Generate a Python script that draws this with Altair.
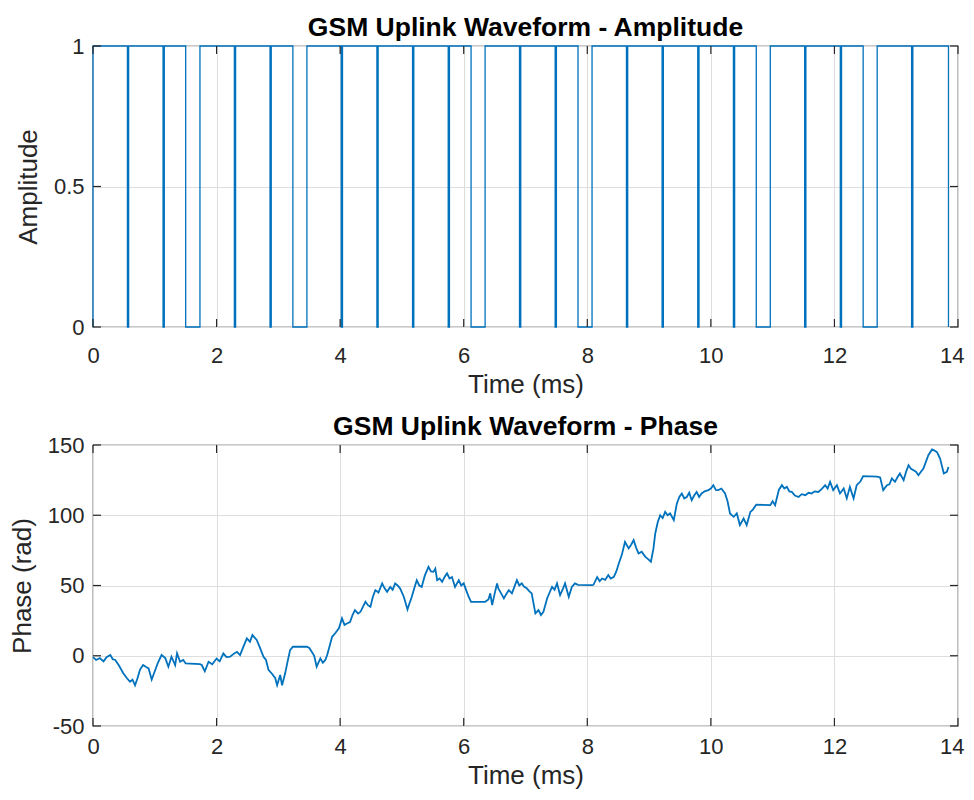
import altair as alt
import pandas as pd

# ---------------- data ----------------
# GSM uplink bursts (ms): start / end of each "on" interval (amplitude 1)
burst_start = [0.000, 0.577, 1.154, 1.731, 2.308, 2.885, 3.462, 4.038,
               4.615, 5.192, 5.769, 6.346, 6.923, 7.500, 8.077, 8.654,
               9.231, 9.808, 10.385, 10.962, 11.538, 12.115, 12.692, 13.269]
burst_end = [0.557, 1.134, 1.500, 2.288, 2.865, 3.235, 4.018, 4.595,
             5.172, 5.749, 6.119, 6.903, 7.480, 7.850, 8.634, 9.211,
             9.788, 10.365, 10.735, 11.518, 12.095, 12.465, 13.249, 13.846]

phase_time = [
    0.00, 0.05, 0.11, 0.17, 0.22, 0.28, 0.32, 0.36, 0.42, 0.49, 0.55, 0.60,
    0.64, 0.68, 0.72, 0.76, 0.81, 0.86, 0.90, 0.95, 1.00, 1.05, 1.11, 1.17,
    1.22, 1.27, 1.33, 1.36, 1.41, 1.46, 1.50, 1.731, 1.76, 1.81, 1.87, 1.93,
    2.00, 2.05, 2.11, 2.16, 2.22, 2.28, 2.33, 2.38, 2.43, 2.49, 2.54, 2.58,
    2.65, 2.70, 2.76, 2.80, 2.84, 2.90, 2.95, 2.98, 3.03, 3.06, 3.11, 3.15,
    3.19, 3.235, 3.462, 3.50, 3.54, 3.58, 3.62, 3.68, 3.72, 3.76, 3.79, 3.83,
    3.87, 3.92, 3.98, 4.03, 4.07, 4.11, 4.16, 4.20, 4.24, 4.29, 4.33, 4.37,
    4.41, 4.45, 4.49, 4.53, 4.57, 4.62, 4.68, 4.72, 4.76, 4.81, 4.85, 4.89,
    4.93, 4.97, 5.03, 5.09, 5.12, 5.16, 5.20, 5.24, 5.28, 5.32, 5.37, 5.43,
    5.47, 5.51, 5.54, 5.57, 5.61, 5.65, 5.69, 5.73, 5.77, 5.81, 5.86, 5.92,
    5.96, 6.00, 6.05, 6.08, 6.119, 6.346, 6.40, 6.43, 6.46, 6.50, 6.54, 6.56,
    6.61, 6.65, 6.69, 6.73, 6.78, 6.82, 6.86, 6.90, 6.94, 6.98, 7.02, 7.06,
    7.10, 7.16, 7.21, 7.25, 7.29, 7.35, 7.39, 7.43, 7.47, 7.51, 7.56, 7.60,
    7.64, 7.70, 7.75, 7.80, 7.85, 8.077, 8.10, 8.16, 8.20, 8.24, 8.29, 8.34,
    8.38, 8.43, 8.47, 8.51, 8.56, 8.61, 8.67, 8.71, 8.75, 8.79, 8.83, 8.88,
    8.94, 8.98, 9.03, 9.07, 9.10, 9.14, 9.18, 9.22, 9.26, 9.30, 9.34, 9.40,
    9.45, 9.49, 9.53, 9.57, 9.61, 9.65, 9.69, 9.73, 9.77, 9.81, 9.85, 9.90,
    9.96, 10.00, 10.04, 10.08, 10.12, 10.17, 10.23, 10.27, 10.31, 10.37, 10.42, 10.47,
    10.53, 10.58, 10.64, 10.68, 10.735, 10.962, 11.00, 11.04, 11.10, 11.15, 11.19, 11.23,
    11.27, 11.31, 11.36, 11.42, 11.47, 11.53, 11.58, 11.63, 11.68, 11.74, 11.80, 11.85,
    11.89, 11.93, 11.98, 12.04, 12.09, 12.15, 12.20, 12.25, 12.31, 12.36, 12.42, 12.465,
    12.692, 12.74, 12.79, 12.85, 12.89, 12.93, 12.98, 13.02, 13.06, 13.12, 13.16, 13.20,
    13.24, 13.28, 13.32, 13.36, 13.40, 13.44, 13.48, 13.52, 13.58, 13.62, 13.66, 13.71,
    13.77, 13.82, 13.846,
]
phase_rad = [
    -1, -3, -1.7, -4, -1, 0.5, -2.5, -3, -7, -12.5, -16, -18.5,
    -17, -21, -16, -10, -6.6, -8, -9, -17, -11, -5, 0.5, -1.7,
    -7.8, -0.7, -6.6, 1.7, -4.3, -3, -5.5, -6.0, -6.6, -11, -4.3, -6,
    -2, -4, 1.7, -1, -0.7, 1.5, 2.8, 0.5, 6, 12.4, 10, 14.7,
    11.2, 6, -0.7, -3, -10, -13, -16, -21, -13.7, -21, -12.5, -4,
    4, 6.4, 6.4, 5.5, 2.8, 0, -7.8, -1.9, -5, -3, 0.5, 7,
    13.5, 16, 19.5, 26.6, 22, 23, 24, 29, 32.5, 30, 31.3, 35,
    38.4, 36, 34.8, 42, 46.7, 45, 51.5, 48, 45.5, 49, 47, 51.5,
    50, 48, 42, 33, 37, 42, 48, 53.8, 50, 49, 57, 63.3,
    60, 59.7, 62, 53.8, 55, 52.6, 56, 58.6, 55, 56, 49, 53.8,
    50, 51.5, 45.5, 42, 38.4, 38.4, 40, 44.4, 36, 44, 51.5, 48,
    44, 40.8, 44, 46.7, 44.4, 49, 53.8, 50, 51.5, 49, 48, 46,
    44.4, 30.2, 32.5, 29, 31.3, 40.8, 45, 49, 47, 51.5, 43.2, 47,
    51.5, 42, 49, 51.5, 50.5, 50.3, 50.5, 56, 53, 55, 54, 57.4,
    55, 56.2, 60, 65.7, 72, 81, 76.4, 79, 82.3, 77, 72.8, 74,
    70.4, 69, 66.9, 76, 87, 95, 100, 98, 102.4, 100, 101.3, 96.5,
    108.4, 113, 115.5, 112, 113, 116, 110.7, 114, 116.6, 113, 115.5, 117,
    117.9, 119, 121.4, 118, 117.9, 119, 115.5, 110, 101.3, 98.9, 101.3, 93,
    97.7, 93, 102.4, 104, 107.5, 107.2, 110, 107.2, 118, 121.4, 119, 120.2,
    117, 116.6, 114, 113, 115, 114.3, 116, 115.5, 117, 116.6, 119, 121.4,
    119, 123.8, 117.9, 121.4, 115.5, 119, 112, 120.2, 112, 121.4, 124, 127.8,
    127.5, 126.9, 117.9, 121.4, 122, 126.2, 123.8, 127, 129.7, 125, 131, 135.6,
    133, 132, 131, 128.5, 131, 133.3, 138, 142.7, 146.8, 146, 145, 140.4,
    129.7, 130.9, 134.4,
]

x_ticks = [0, 2, 4, 6, 8, 10, 12, 14]
amp_ticks = [0, 0.5, 1]
phase_ticks = [-50, 0, 50, 100, 150]

# ---------------- styling ----------------
W, H = 865, 281
BLUE = "#0072BD"
AXC = "#262626"
FONT = "Liberation Sans"
TICK_LEN = 8

# amplitude vertices (step waveform) built from the burst lists
amp_t, amp_a = [], []
for s, e in zip(burst_start, burst_end):
    amp_t += [s, s, e, e]
    amp_a += [0, 1, 1, 0]
amp_df = pd.DataFrame({"t": amp_t, "v": amp_a, "i": list(range(len(amp_t)))})
phase_df = pd.DataFrame({"t": phase_time, "v": phase_rad,
                         "i": list(range(len(phase_time)))})


def panel(df, ydom, yticks, ytitle, title, sw, xlabpad):
    xs = alt.Scale(domain=[0, 14], nice=False, zero=False)
    ys = alt.Scale(domain=ydom, nice=False, zero=False)
    xax = alt.Axis(values=x_ticks, title="Time (ms)", labelExpr="datum.value",
                   labelPadding=xlabpad, labelFlush=True, labelFlushOffset=6)
    yax = alt.Axis(values=yticks, title=ytitle, labelExpr="datum.value",
                   labelFlush=False)
    X = alt.X("t:Q", scale=xs, axis=xax)
    Y = alt.Y("v:Q", scale=ys, axis=yax)
    line = alt.Chart(df).mark_line(color=BLUE, strokeWidth=sw).encode(
        x=X, y=Y, order="i:Q")
    xt = pd.DataFrame({"t": x_ticks})
    yt = pd.DataFrame({"v": yticks})
    xb = alt.Chart(xt).mark_rule(color=AXC, strokeWidth=1.2).encode(
        x=X, y=alt.value(H), y2=alt.value(H - TICK_LEN))
    xtop = alt.Chart(xt).mark_rule(color=AXC, strokeWidth=1.2).encode(
        x=X, y=alt.value(0), y2=alt.value(TICK_LEN))
    yl = alt.Chart(yt).mark_rule(color=AXC, strokeWidth=1.2).encode(
        y=Y, x=alt.value(0), x2=alt.value(TICK_LEN))
    yr = alt.Chart(yt).mark_rule(color=AXC, strokeWidth=1.2).encode(
        y=Y, x=alt.value(W - TICK_LEN), x2=alt.value(W))
    return alt.layer(line, xb, xtop, yl, yr).properties(
        width=W, height=H,
        title=alt.TitleParams(title, fontSize=26.5, fontWeight="bold", font=FONT,
                              color="#000000", frame="group", anchor="middle",
                              baseline="alphabetic", offset=-27),
    )


top = panel(amp_df, [0, 1], amp_ticks, "Amplitude",
            "GSM Uplink Waveform - Amplitude", 1.3, 18)
bottom = panel(phase_df, [-50, 150], phase_ticks, "Phase (rad)",
               "GSM Uplink Waveform - Phase", 1.8, 10)

chart = alt.vconcat(top, bottom, spacing=118, bounds="flush").properties(
    padding={"left": 0, "top": 5, "right": 0, "bottom": 5}
).configure_view(
    stroke=AXC, strokeWidth=1.2
).configure_axis(
    grid=True, gridColor="#dedede", gridWidth=1,
    ticks=False, tickSize=0, domain=False,
    labelFont=FONT, labelFontSize=22, labelColor=AXC,
    titleFont=FONT, titleFontSize=26, titleColor=AXC, titleFontWeight="normal",
).configure_axisX(
    titlePadding=5,
).configure_axisY(
    labelPadding=9, titlePadding=12,
)

chart.save("out.html", embed_options={"renderer": "svg", "actions": False})
